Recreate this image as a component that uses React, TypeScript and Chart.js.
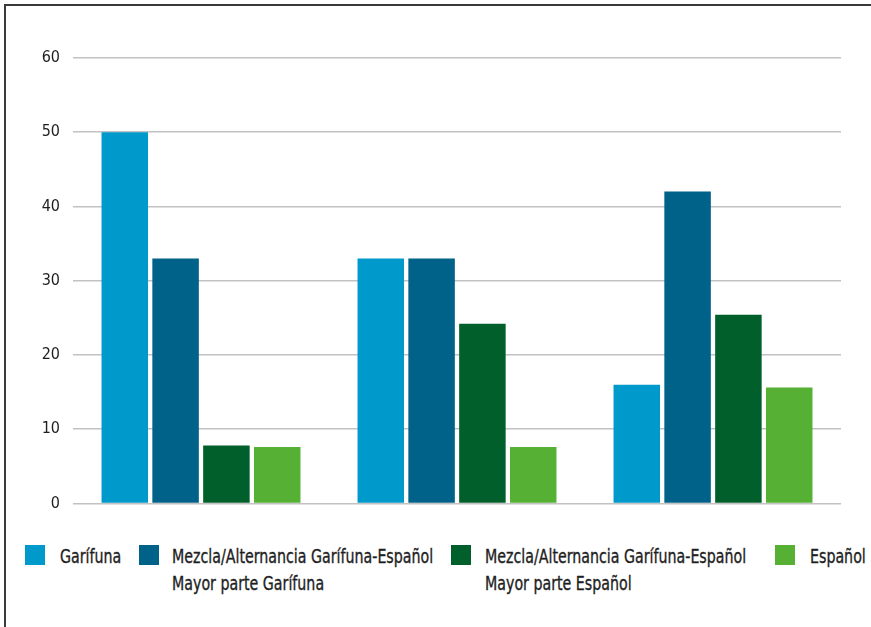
import React, { useEffect, useRef } from "react";
import { Chart, registerables } from "chart.js";

Chart.register(...registerables);

const categories = ["Grupo 1", "Grupo 2", "Grupo 3"];
const seriesLabels = [
  ["Garífuna"],
  ["Mezcla/Alternancia Garífuna-Español", "Mayor parte Garífuna"],
  ["Mezcla/Alternancia Garífuna-Español", "Mayor parte Español"],
  ["Español"],
];
const garifuna = [50, 33, 16];
const mezclaGarifuna = [33, 33, 42];
const mezclaEspanol = [7.8, 24.2, 25.4];
const espanol = [7.6, 7.6, 15.6];
const seriesValues = [garifuna, mezclaGarifuna, mezclaEspanol, espanol];
const seriesColors = ["#0099cb", "#006189", "#005f2b", "#55b033"];
const yTicks = [0, 10, 20, 30, 40, 50, 60];

const FONT = "'DejaVu Sans', sans-serif";

const legendPos = [
  { swatch: 25, text: 60 },
  { swatch: 139, text: 172 },
  { swatch: 451, text: 485 },
  { swatch: 775, text: 810 },
];

export default function App() {
  const canvasRef = useRef<HTMLCanvasElement | null>(null);

  useEffect(() => {
    if (!canvasRef.current) return;
    const chart = new Chart(canvasRef.current, {
      type: "bar",
      data: {
        labels: categories,
        datasets: seriesValues.map((vals, i) => ({
          label: seriesLabels[i].join(" "),
          data: vals,
          backgroundColor: seriesColors[i],
          borderWidth: 0,
          categoryPercentage: 0.794,
          barPercentage: 0.915,
        })),
      },
      options: {
        responsive: false,
        animation: false,
        maintainAspectRatio: false,
        layout: { padding: { left: 17, right: 30, top: 58, bottom: 17 } },
        plugins: { legend: { display: false }, tooltip: { enabled: false } },
        scales: {
          x: { display: false },
          y: {
            min: 0,
            max: 60,
            afterBuildTicks: (axis: any) => {
              axis.ticks = yTicks.map((v) => ({ value: v }));
            },
            afterFit: (axis: any) => {
              axis.width = 56;
            },
            border: { display: false },
            grid: { color: "#c2c2c2", lineWidth: 1.5, drawTicks: false },
            ticks: {
              padding: 13,
              color: "#1e1e1e",
              font: { family: FONT, size: 16, weight: "condensed" as any },
            },
          },
        },
      },
    });
    return () => chart.destroy();
  }, []);

  return (
    <div style={{ position: "absolute", left: 0, top: 0, width: 871, height: 627, background: "#fff", overflow: "hidden" }}>
      <div
        style={{
          position: "absolute",
          left: 4,
          top: 4,
          width: 867,
          height: 623,
          borderLeft: "2px solid #3a3a3a",
          borderTop: "2px solid #3a3a3a",
          boxSizing: "border-box",
        }}
      />
      <canvas ref={canvasRef} width={871} height={526} style={{ position: "absolute", left: 0, top: 0, width: 871, height: 526 }} />
      {seriesLabels.map((lines, i) => (
        <React.Fragment key={i}>
          <div
            style={{
              position: "absolute",
              left: legendPos[i].swatch,
              top: 545,
              width: 20,
              height: 20,
              background: seriesColors[i],
            }}
          />
          <div
            style={{
              position: "absolute",
              left: legendPos[i].text,
              top: 543,
              fontFamily: FONT,
              fontStretch: "condensed",
              fontSize: 20,
              lineHeight: "27px",
              color: "#1e1e1e",
              WebkitTextStroke: "0.35px #1e1e1e",
              whiteSpace: "nowrap",
              transform: "scaleX(0.79)",
              transformOrigin: "0 0",
            }}
          >
            {lines.map((l, j) => (
              <div key={j}>{l}</div>
            ))}
          </div>
        </React.Fragment>
      ))}
    </div>
  );
}
